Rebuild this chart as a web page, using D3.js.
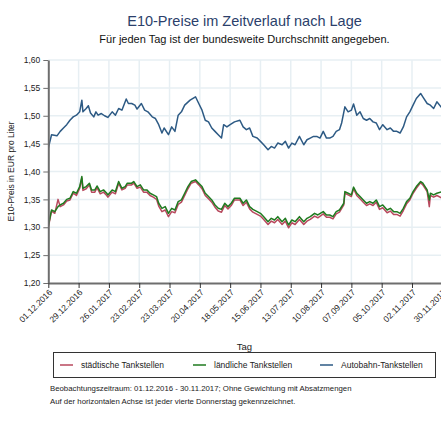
<!DOCTYPE html>
<html><head><meta charset="utf-8">
<script src="https://cdn.jsdelivr.net/npm/d3@7"></script>
<style>
body{margin:0;background:#fff;}
svg{display:block;font-family:"Liberation Sans",Arial,sans-serif;}
</style></head><body>
<svg id="chart" width="441" height="421"></svg>
<script>
// ---------- data ----------
const startDate = "01.12.2016";
const endDate = "30.11.2017";
const xTickLabels = ["01.12.2016","29.12.2016","26.01.2017","23.02.2017","23.03.2017","20.04.2017","18.05.2017","15.06.2017","13.07.2017","10.08.2017","07.09.2017","05.10.2017","02.11.2017","30.11.2017"];
const yTicks = [1.20,1.25,1.30,1.35,1.40,1.45,1.50,1.55,1.60];
const seriesNames = ["städtische Tankstellen","ländliche Tankstellen","Autobahn-Tankstellen"];
const seriesColors = ["#b8495e","#1f7a1f","#2d5a84"];

// days since 01.12.2016
const daysAutobahn = [0,3,8,11,14,17,20,23,26,29,31,32,35,37,39,42,44,46,49,52,55,59,62,65,68,72,74,77,80,82,86,89,92,96,99,102,105,107,111,114,117,120,123,126,131,136,139,142,145,148,151,154,157,160,162,165,168,172,177,180,183,186,189,193,196,199,203,206,209,212,216,219,222,225,228,232,236,239,242,245,248,251,254,257,260,263,266,269,271,274,277,280,282,285,288,291,294,297,300,303,306,309,313,316,319,322,325,328,331,334,337,340,344,346,350,353,356,359,364];
const autobahn = [1.442,1.466,1.464,1.472,1.478,1.484,1.492,1.498,1.501,1.507,1.528,1.507,1.513,1.518,1.505,1.498,1.507,1.501,1.504,1.500,1.497,1.507,1.501,1.513,1.510,1.530,1.522,1.522,1.519,1.512,1.522,1.510,1.507,1.498,1.495,1.484,1.469,1.478,1.466,1.480,1.472,1.501,1.507,1.519,1.528,1.534,1.522,1.510,1.492,1.489,1.478,1.472,1.466,1.460,1.484,1.480,1.484,1.489,1.492,1.480,1.475,1.478,1.463,1.460,1.454,1.448,1.439,1.445,1.442,1.451,1.448,1.454,1.442,1.451,1.448,1.463,1.448,1.457,1.460,1.463,1.463,1.460,1.472,1.460,1.460,1.463,1.472,1.475,1.487,1.516,1.507,1.510,1.521,1.501,1.507,1.495,1.492,1.495,1.489,1.487,1.475,1.484,1.475,1.478,1.472,1.472,1.469,1.480,1.498,1.507,1.519,1.531,1.540,1.534,1.522,1.519,1.513,1.525,1.513];

const daysLand = [0,2,3,6,9,11,14,17,20,23,26,29,31,32,35,38,40,43,45,48,51,54,55,59,62,65,68,71,73,77,79,82,85,88,91,94,97,100,102,105,108,111,114,117,120,123,126,129,132,136,139,142,145,148,151,154,157,160,163,166,169,172,177,180,183,186,189,193,196,199,203,206,209,212,216,219,222,225,228,232,236,239,242,246,249,254,257,260,263,266,269,273,274,277,280,282,285,288,291,294,297,300,303,306,309,313,316,319,322,325,328,331,334,337,340,344,346,350,352,353,356,359,364];
const laendlich = [1.302,1.322,1.331,1.328,1.337,1.340,1.343,1.350,1.352,1.364,1.361,1.373,1.391,1.370,1.373,1.379,1.367,1.367,1.374,1.364,1.367,1.361,1.358,1.367,1.364,1.382,1.370,1.373,1.379,1.379,1.382,1.373,1.376,1.367,1.367,1.361,1.358,1.355,1.343,1.334,1.337,1.325,1.334,1.331,1.346,1.349,1.361,1.373,1.382,1.385,1.379,1.373,1.361,1.355,1.349,1.340,1.334,1.332,1.343,1.337,1.343,1.352,1.352,1.343,1.349,1.337,1.332,1.328,1.325,1.319,1.310,1.316,1.313,1.319,1.310,1.316,1.304,1.313,1.310,1.319,1.310,1.316,1.319,1.325,1.322,1.328,1.322,1.322,1.319,1.328,1.331,1.343,1.364,1.361,1.358,1.372,1.361,1.355,1.349,1.343,1.346,1.343,1.349,1.337,1.340,1.331,1.334,1.328,1.328,1.325,1.334,1.346,1.352,1.364,1.373,1.382,1.379,1.367,1.349,1.361,1.358,1.361,1.364];
const staedtisch = [1.300,1.319,1.329,1.325,1.350,1.337,1.340,1.347,1.349,1.361,1.357,1.370,1.388,1.366,1.369,1.376,1.363,1.363,1.371,1.360,1.363,1.357,1.354,1.363,1.360,1.379,1.367,1.370,1.376,1.376,1.379,1.370,1.372,1.363,1.363,1.357,1.354,1.350,1.338,1.328,1.331,1.319,1.328,1.326,1.341,1.345,1.357,1.369,1.379,1.382,1.376,1.369,1.357,1.351,1.345,1.336,1.329,1.327,1.339,1.333,1.339,1.349,1.349,1.339,1.345,1.333,1.327,1.323,1.320,1.314,1.305,1.311,1.308,1.314,1.305,1.311,1.299,1.308,1.305,1.314,1.305,1.311,1.314,1.320,1.317,1.324,1.318,1.318,1.315,1.324,1.327,1.340,1.361,1.358,1.355,1.369,1.357,1.351,1.345,1.339,1.342,1.339,1.345,1.332,1.335,1.326,1.329,1.323,1.323,1.320,1.330,1.342,1.349,1.361,1.370,1.380,1.376,1.364,1.337,1.357,1.354,1.357,1.352];

// ---------- drawing ----------
const svg = d3.select("#chart");
const W = 441, H = 421;
const parse = d3.timeParse("%d.%m.%Y");
const t0 = parse(startDate);
const dayToDate = d => d3.timeDay.offset(t0, d);

const x = d3.scaleTime().domain([t0, parse(endDate)]).range([48.3, 442.3]);
const y = d3.scaleLinear().domain([1.20, 1.60]).range([283, 60]);
const de = d3.formatLocale({decimal: ",", thousands: ".", grouping: [3], currency: ["", " €"]});
const fmtY = de.format(".2f");

const xTicks = xTickLabels.map(parse);

// grid
const grid = svg.append("g");
grid.selectAll(".hg").data(yTicks.slice(1)).join("line")
  .attr("x1", 48.3).attr("x2", W).attr("y1", d => y(d)).attr("y2", d => y(d))
  .attr("stroke", "#e7eff3").attr("stroke-width", 1.5);
grid.selectAll(".vg").data(xTicks.slice(1)).join("line")
  .attr("x1", d => x(d)).attr("x2", d => x(d)).attr("y1", 60).attr("y2", 283)
  .attr("stroke", "#e7eff3").attr("stroke-width", 1.5);

// clip
svg.append("clipPath").attr("id", "clip").append("rect")
  .attr("x", 48.3).attr("y", 55).attr("width", 400).attr("height", 230);

const line = d3.line().x(d => x(d[0])).y(d => y(d[1]));
const series = [
  {days: daysLand, vals: staedtisch, color: seriesColors[0]},
  {days: daysLand, vals: laendlich, color: seriesColors[1]},
  {days: daysAutobahn, vals: autobahn, color: seriesColors[2]}
];
const lines = svg.append("g").attr("clip-path", "url(#clip)");
series.forEach(s => {
  const pts = s.days.map((d, i) => [dayToDate(d), s.vals[i]]);
  lines.append("path").datum(pts).attr("d", line)
    .attr("fill", "none").attr("stroke", s.color).attr("stroke-width", 1.5)
    .attr("stroke-linejoin", "round");
});

// y axis
const yAxis = svg.append("g").attr("transform", "translate(48.3,0)")
  .call(d3.axisLeft(y).tickValues(yTicks).tickFormat(fmtY).tickSize(5).tickSizeOuter(0));
yAxis.select(".domain").attr("stroke", "#6e6e6e").attr("stroke-width", 2);
yAxis.selectAll(".tick line").attr("stroke", "#6e6e6e").attr("stroke-width", 1);
yAxis.selectAll(".tick text").attr("font-size", 8.5).attr("fill", "#222")
  .attr("font-family", "Liberation Sans, Arial, sans-serif").attr("x", -8);

// x axis
const xAxis = svg.append("g").attr("transform", "translate(0,283)")
  .call(d3.axisBottom(x).tickValues(xTicks).tickFormat((d, i) => xTickLabels[i]).tickSize(5).tickSizeOuter(0));
xAxis.select(".domain").attr("stroke", "#6e6e6e").attr("stroke-width", 2);
xAxis.selectAll(".tick line").attr("stroke", "#333").attr("stroke-width", 1);
xAxis.selectAll(".tick text").attr("font-size", 8.5).attr("fill", "#222")
  .attr("font-family", "Liberation Sans, Arial, sans-serif")
  .attr("text-anchor", "end").attr("x", 0).attr("y", 0).attr("dy", 0)
  .attr("transform", "translate(4,10) rotate(-45)");

// axis titles
svg.append("text").attr("x", 244.5).attr("y", 350).attr("text-anchor", "middle")
  .attr("font-size", 9.5).attr("fill", "#222").text("Tag");
svg.append("text").attr("transform", "translate(14,171.5) rotate(-90)").attr("text-anchor", "middle")
  .attr("font-size", 8.5).attr("fill", "#222").text("E10-Preis in EUR pro Liter");

// title
svg.append("text").attr("x", 244.5).attr("y", 26).attr("text-anchor", "middle")
  .attr("font-size", 14.5).attr("fill", "#2b3f6b").text("E10-Preise im Zeitverlauf nach Lage");
svg.append("text").attr("x", 244.5).attr("y", 43).attr("text-anchor", "middle")
  .attr("font-size", 11).attr("fill", "#111").text("Für jeden Tag ist der bundesweite Durchschnitt angegeben.");

// legend
const lg = svg.append("g");
lg.append("rect").attr("x", 53.5).attr("y", 352.5).attr("width", 382).attr("height", 25)
  .attr("fill", "#fff").attr("stroke", "#333").attr("stroke-width", 1);
const legX = [60, 193, 320];
seriesNames.forEach((n, i) => {
  lg.append("line").attr("x1", legX[i]).attr("x2", legX[i] + 13).attr("y1", 365).attr("y2", 365)
    .attr("stroke", seriesColors[i]).attr("stroke-width", 1.5);
  lg.append("text").attr("x", legX[i] + 21).attr("y", 368).attr("font-size", 8.5)
    .attr("fill", "#222").text(n);
});

// footnotes
svg.append("text").attr("x", 50).attr("y", 391).attr("font-size", 7.8).attr("fill", "#222")
  .text("Beobachtungszeitraum: 01.12.2016 - 30.11.2017; Ohne Gewichtung mit Absatzmengen");
svg.append("text").attr("x", 50).attr("y", 404).attr("font-size", 7.8).attr("fill", "#222")
  .text("Auf der horizontalen Achse ist jeder vierte Donnerstag gekennzeichnet.");
</script>
</body></html>
